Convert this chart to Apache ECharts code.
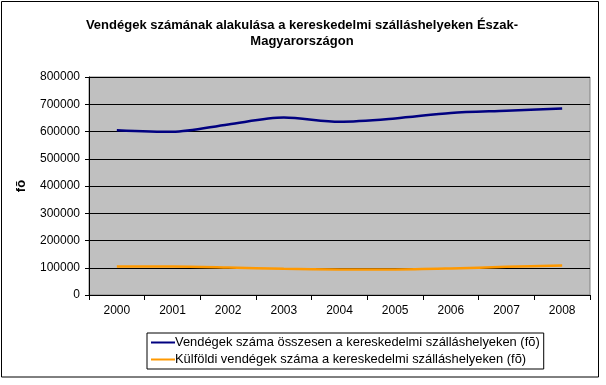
<!DOCTYPE html>
<html>
<head>
<meta charset="utf-8">
<script src="https://cdn.jsdelivr.net/npm/echarts@6/dist/echarts.min.js"></script>
<style>html,body{margin:0;padding:0;background:#fff}#c{width:606px;height:385px}</style>
</head>
<body>
<div id="c"></div>
<script>
const years = ['2000','2001','2002','2003','2004','2005','2006','2007','2008'];
const totalGuests = [605000, 599000, 626000, 651000, 636000, 648000, 668000, 676000, 684000];
const foreignGuests = [104500, 104500, 101000, 96000, 94000, 94000, 97500, 103500, 108000];
const yTicks = [0, 100000, 200000, 300000, 400000, 500000, 600000, 700000, 800000];
const seriesNames = ['Vendégek száma összesen a kereskedelmi szálláshelyeken (fõ)', 'Külföldi vendégek száma a kereskedelmi szálláshelyeken (fõ)'];

const font = 'Liberation Sans, Arial, sans-serif';
const chart = echarts.init(document.getElementById('c'), null, {renderer: 'canvas'});
chart.setOption({
  animation: false,
  backgroundColor: '#fff',
  title: {
    text: 'Vendégek számának alakulása a kereskedelmi szálláshelyeken Észak-\nMagyarországon',
    left: 297, top: 12, textAlign: 'center',
    textStyle: {fontFamily: font, fontSize: 13, fontWeight: 'bold', color: '#000', lineHeight: 16}
  },
  graphic: [{
    type: 'rect', shape: {x: 1.5, y: 1.5, width: 597, height: 375.5},
    style: {fill: 'none', stroke: '#000', lineWidth: 1}, z: 100
  }],
  grid: {left: 89, top: 77, right: 16, bottom: 90, show: true, backgroundColor: '#C0C0C0', borderColor: '#808080', borderWidth: 1},
  legend: {
    orient: 'vertical', left: 147, top: 333, itemWidth: 24, itemHeight: 2, itemGap: 4,
    padding: [3, 4, 3, 4], borderColor: '#000', borderWidth: 1,
    icon: 'rect',
    textStyle: {fontFamily: font, fontSize: 12.9, color: '#000', padding: [0, 0, 0, -5]},
    data: seriesNames
  },
  xAxis: {
    type: 'category', data: years, boundaryGap: true,
    axisLine: {lineStyle: {color: '#000', width: 1}},
    axisTick: {show: true, length: 5, lineStyle: {color: '#000'}},
    axisLabel: {fontFamily: font, fontSize: 12, color: '#000', margin: 10}
  },
  yAxis: {
    type: 'value', min: yTicks[0], max: yTicks[yTicks.length - 1], interval: 100000,
    name: 'fõ', nameLocation: 'middle', nameGap: 61, nameRotate: 90,
    nameTextStyle: {fontFamily: font, fontSize: 13, fontWeight: 'bold', color: '#000'},
    axisLine: {show: true, lineStyle: {color: '#000', width: 1}},
    axisTick: {show: true, length: 4, lineStyle: {color: '#000'}},
    axisLabel: {fontFamily: font, fontSize: 12, color: '#000', margin: 9, formatter: v => String(v)},
    splitLine: {show: true, lineStyle: {color: '#000', width: 1}}
  },
  series: [
    {name: seriesNames[0], type: 'line', data: totalGuests, smooth: 0.3, showSymbol: false, symbol: 'none',
     lineStyle: {color: '#000080', width: 2.5}, itemStyle: {color: '#000080'}},
    {name: seriesNames[1], type: 'line', data: foreignGuests, smooth: 0.3, showSymbol: false, symbol: 'none',
     lineStyle: {color: '#FF9900', width: 2.5}, itemStyle: {color: '#FF9900'}}
  ]
});
</script>
</body>
</html>
